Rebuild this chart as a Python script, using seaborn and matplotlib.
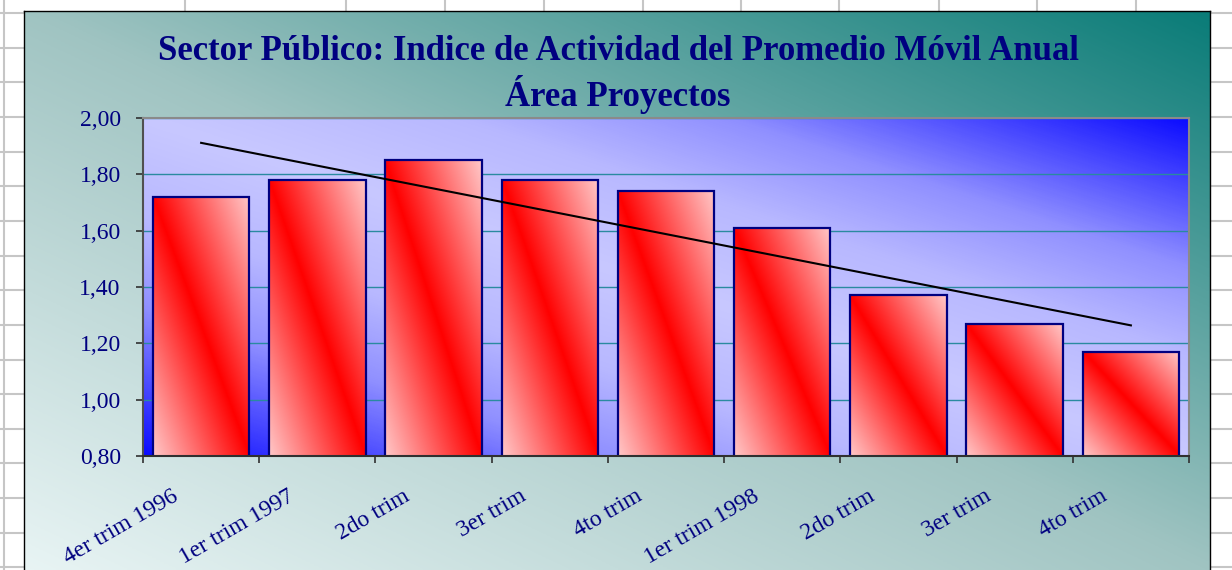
import numpy as np
import pandas as pd
import seaborn as sns
import matplotlib.pyplot as plt
from matplotlib.colors import LinearSegmentedColormap
from matplotlib.lines import Line2D
from matplotlib.ticker import FuncFormatter

# datos del grafico
trimestres = ["4er trim 1996", "1er trim 1997", "2do trim", "3er trim", "4to trim",
              "1er trim 1998", "2do trim", "3er trim", "4to trim"]
indice = [1.72, 1.78, 1.85, 1.78, 1.74, 1.61, 1.37, 1.27, 1.17]
titulo = "Sector Público: Indice de Actividad del Promedio Móvil Anual"
subtitulo = "Área Proyectos"
ymin, ymax = 0.8, 2.0

# las posiciones evitan que seaborn junte los trimestres repetidos
df = pd.DataFrame({"pos": np.arange(len(trimestres)), "indice": indice})

plt.rcParams['font.family'] = ['Liberation Serif', 'DejaVu Serif']

W, H = 1232, 570
fig = plt.figure(figsize=(W / 100, H / 100), dpi=100)
fig.patch.set_facecolor('white')

# cuadricula de la hoja de calculo detras del grafico
gris = '#c6c6c6'
for xc in [4, 185, 346, 445, 544, 643, 741, 839, 939, 1037, 1136]:
    fig.add_artist(Line2D([xc / W, xc / W], [0, 1], color=gris, lw=1.5, zorder=-3))
for yr in np.arange(13, H, 34.65):
    fig.add_artist(Line2D([0, 1], [1 - yr / H, 1 - yr / H], color=gris, lw=1.5, zorder=-3))


def gradiente(colores, n=300):
    # degradado diagonal: t=0 abajo-izquierda, t=1 arriba-derecha
    u = np.linspace(0, 1, n)
    v = np.linspace(1, 0, n)
    U, V = np.meshgrid(u, v)
    cmap = LinearSegmentedColormap.from_list('g', colores)
    return cmap((U + V) / 2)


verde = [(0, '#e8f4f4'), (0.5, '#a0c4c2'), (1, '#0a7c78')]
azul = [(0, '#0c0cff'), (0.1, '#4848ff'), (0.22, '#9090ff'), (0.35, '#b8b8ff'),
        (0.5, '#c8c8ff'), (0.65, '#b8b8ff'), (0.78, '#9090ff'), (0.9, '#4848ff'),
        (1, '#0c0cff')]
rojo = [(0, '#ffc8c8'), (0.5, '#ff0000'), (1, '#ffc8c8')]

# area del grafico
bg = fig.add_axes([24 / W, 0, (1210 - 24) / W, (H - 11) / H], zorder=-1)
bg.imshow(gradiente(verde), extent=[0, 1, 0, 1], aspect='auto', interpolation='bilinear')
bg.set_xlim(0, 1)
bg.set_ylim(0, 1)
bg.set_xticks([])
bg.set_yticks([])
for s in ['left', 'top', 'right']:
    bg.spines[s].set_color('black')
    bg.spines[s].set_linewidth(1)
bg.spines['bottom'].set_visible(False)

# area de trazado
ax = fig.add_axes([143 / W, 1 - 456 / H, 1046 / W, 338 / H])
ax.imshow(gradiente(azul), extent=[0, 1, 0, 1], transform=ax.transAxes,
          aspect='auto', interpolation='bilinear', zorder=0)

sns.barplot(data=df, x="pos", y="indice", width=0.83, color='white',
            edgecolor='#000080', linewidth=1.6, errorbar=None, ax=ax)
for p in ax.patches:
    p.set_facecolor('none')
    p.set_zorder(1)
    x0, w, h = p.get_x(), p.get_width(), p.get_height()
    ax.imshow(gradiente(rojo), extent=[x0, x0 + w, ymin, h], aspect='auto',
              interpolation='bilinear', zorder=0.9)

# linea de tendencia lineal
sns.regplot(data=df, x="pos", y="indice", scatter=False, ci=None, color='black',
            line_kws={'lw': 1.5, 'zorder': 3}, ax=ax)

ax.set_xlim(-0.5, len(trimestres) - 0.5)
ax.set_ylim(ymin, ymax)
ax.set_xlabel('')
ax.set_ylabel('')

ax.set_yticks(np.arange(ymin, ymax + 0.01, 0.2))
ax.yaxis.set_major_formatter(FuncFormatter(lambda v, p: f"{v:.2f}".replace('.', ',')))
ax.yaxis.grid(True, color='#2a8aa0', lw=1)
ax.xaxis.grid(False)
ax.set_axisbelow(True)

ax.set_xticks(df["pos"] - 0.215, labels=trimestres)
ax.set_xticks(np.arange(len(trimestres) + 1) - 0.5, minor=True)
ax.tick_params(axis='x', which='major', length=0, pad=28, labelsize=17, labelcolor='#000080')
ax.tick_params(axis='x', which='minor', length=5, direction='out', color='#303030', width=1.2)
ax.tick_params(axis='y', length=5, direction='out', color='#303030', width=1.2,
               pad=11, labelsize=17, labelcolor='#000080')
for lab in ax.get_xticklabels():
    lab.set_rotation(30)
    lab.set_ha('right')
    lab.set_va('center')
    lab.set_rotation_mode('anchor')

ax.spines['left'].set_color('#505050')
ax.spines['bottom'].set_color('#303030')
ax.spines['top'].set_color('#8a8a8a')
ax.spines['right'].set_color('#8a8a8a')
for s in ax.spines.values():
    s.set_linewidth(1.5)

fig.text(618 / W, 1 - 52 / H, titulo, ha='center', va='center', fontsize=25,
         fontweight='bold', color='#000080')
fig.text(618 / W, 1 - 95 / H, subtitulo, ha='center', va='center', fontsize=25,
         fontweight='bold', color='#000080')

fig.savefig("out.png", dpi=100)
